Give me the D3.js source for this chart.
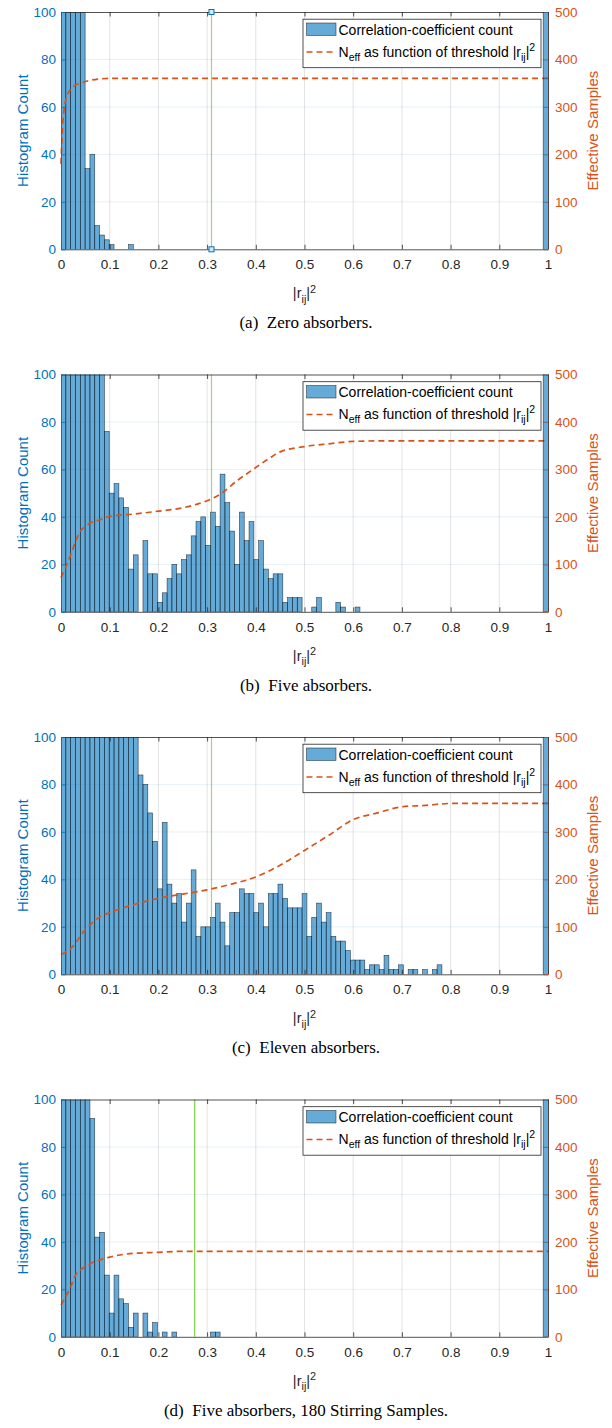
<!DOCTYPE html>
<html>
<head>
<meta charset="utf-8">
<script src="https://cdn.jsdelivr.net/npm/d3@7"></script>
<style>
  body { margin: 0; background: #fff; }
  svg { display: block; }
  text { font-family: "Liberation Sans", Arial, Helvetica, sans-serif; }
  .caption { font-family: "Liberation Serif", "Times New Roman", serif; white-space: pre; }
</style>
</head>
<body>
<script>
// Histogram counts per bin (101 equal bins over [0, 1]); bins past the end of a list are empty.
// Bars taller than the 100 limit are clipped by the axes.
const countsZero = [420, 360, 280, 190, 120, 34, 40, 10, 6, 4, 2, 0, 0, 0, 2];
const countsFive = [300, 260, 230, 200, 180, 160, 140, 120, 105, 76,
  50, 54, 48, 44, 18, 24, 0, 30, 16, 16,
  4, 8, 14, 20, 16, 22, 24, 32, 38, 40,
  28, 42, 36, 58, 46, 34, 20, 42, 30, 38,
  22, 30, 18, 14, 16, 16, 4, 6, 6, 6,
  0, 0, 2, 6, 0, 0, 0, 4, 2, 0,
  0, 2];
const countsEleven = [260, 240, 220, 210, 200, 190, 180, 170, 160, 150,
  140, 130, 125, 118, 110, 104, 84, 80, 68, 56,
  36, 64, 38, 30, 34, 22, 30, 44, 16, 20,
  20, 24, 30, 22, 12, 26, 26, 36, 34, 34,
  26, 30, 20, 34, 34, 38, 32, 28, 28, 28,
  34, 16, 24, 30, 22, 26, 16, 14, 14, 10,
  6, 6, 6, 2, 4, 4, 2, 8, 2, 2,
  4, 0, 2, 2, 0, 2, 0, 2, 4];
const countsStir = [240, 200, 170, 150, 130, 110, 92, 42, 44, 26,
  10, 26, 16, 14, 4, 10, 0, 10, 2, 6,
  0, 2, 0, 2, 0, 0, 0, 0, 0, 0,
  0, 2, 2];
// Count in the last bin (|r|^2 = 1, the diagonal terms)
const diagonalCounts = [360, 360, 360, 180];

// Effective number of samples against the threshold |r_ij|^2
const neffZeroX = [0, 0.003, 0.007, 0.012, 0.02, 0.03, 0.04, 0.06, 0.08, 0.1, 1.0];
const neffZeroY = [180, 255, 300, 322, 338, 346, 350, 356, 359, 360, 360];
const neffFiveX = [0, 0.01, 0.02, 0.03, 0.04, 0.05, 0.06, 0.08, 0.1, 0.15, 0.2, 0.25, 0.28, 0.3, 0.33, 0.36, 0.4, 0.43, 0.45, 0.5, 0.55, 0.6, 0.65, 1.0];
const neffFiveY = [72, 95, 120, 148, 170, 180, 187, 194, 201, 206, 212, 219, 227, 234, 250, 275, 304, 325, 337, 348, 354, 359, 360, 360];
const neffElevenX = [0, 0.02, 0.05, 0.08, 0.1, 0.15, 0.2, 0.25, 0.3, 0.35, 0.4, 0.45, 0.5, 0.55, 0.6, 0.65, 0.7, 0.75, 0.8, 1.0];
const neffElevenY = [42, 54, 94, 121, 130, 147, 160, 169, 178, 190, 205, 230, 261, 293, 326, 340, 353, 356, 360, 360];
const neffStirX = [0, 0.01, 0.02, 0.03, 0.04, 0.05, 0.06, 0.08, 0.1, 0.15, 0.2, 0.25, 1.0];
const neffStirY = [67, 85, 106, 130, 141, 148, 154, 162, 168, 176, 178, 180, 180];

// Chosen threshold marked by the vertical line in each panel
const thresholdLines = [0.309, 0.309, 0.309, 0.2745];

const captions = [
  "(a)  Zero absorbers.",
  "(b)  Five absorbers.",
  "(c)  Eleven absorbers.",
  "(d)  Five absorbers, 180 Stirring Samples."
];
const xTicks = [0, 0.1, 0.2, 0.3, 0.4, 0.5, 0.6, 0.7, 0.8, 0.9, 1];
const xTickLabels = ["0", "0.1", "0.2", "0.3", "0.4", "0.5", "0.6", "0.7", "0.8", "0.9", "1"];
const countTicks = [0, 20, 40, 60, 80, 100];
const sampleTicks = [0, 100, 200, 300, 400, 500];

// ---- drawing ----
const W = 612, H = 1428;
const plotLeft = 61, plotRight = 548, plotHeight = 237.3;
const panelTops = [12, 374.5, 737, 1099.5];
const nBins = 101;
const BLUE = "#0072BD", ORANGE = "#D95319", AXIS = "#262626";
const TICK_FONT = 13.5, LEGEND_FONT = 14;

const panels = [
  { counts: countsZero, diag: diagonalCounts[0], nx: neffZeroX, ny: neffZeroY, thr: thresholdLines[0], cap: captions[0], tips: true, thrColor: "#77AC30", thrOpacity: 0.6 },
  { counts: countsFive, diag: diagonalCounts[1], nx: neffFiveX, ny: neffFiveY, thr: thresholdLines[1], cap: captions[1], tips: false, thrColor: "#77AC30", thrOpacity: 0.6 },
  { counts: countsEleven, diag: diagonalCounts[2], nx: neffElevenX, ny: neffElevenY, thr: thresholdLines[2], cap: captions[2], tips: false, thrColor: "#77AC30", thrOpacity: 0.6 },
  { counts: countsStir, diag: diagonalCounts[3], nx: neffStirX, ny: neffStirY, thr: thresholdLines[3], cap: captions[3], tips: false, thrColor: "#80D24A", thrOpacity: 1 }
];

const svg = d3.select("body").append("svg").attr("width", W).attr("height", H);
const x = d3.scaleLinear().domain([0, 1]).range([plotLeft, plotRight]);

function rIjSquared(sel, size) {
  // writes |r_ij|^2 as tspans
  sel.append("tspan").text("|r");
  sel.append("tspan").attr("dy", size * 0.3).attr("font-size", size * 0.75).text("ij");
  sel.append("tspan").attr("dy", -size * 0.3).text("|");
  sel.append("tspan").attr("dy", -size * 0.4).attr("font-size", size * 0.75).text("2");
}

function styleBar(sel) {
  sel.attr("fill", BLUE).attr("fill-opacity", 0.6)
    .attr("stroke", "#0b1a26").attr("stroke-opacity", 0.8).attr("stroke-width", 0.6);
}

panels.forEach((p, i) => {
  const T = panelTops[i];
  const B = T + plotHeight;
  const yL = d3.scaleLinear().domain([0, 100]).range([B, T]);
  const yR = d3.scaleLinear().domain([0, 500]).range([B, T]);
  const g = svg.append("g");

  const clipId = "plotclip" + i;
  svg.append("clipPath").attr("id", clipId)
    .append("rect").attr("x", plotLeft).attr("y", T)
    .attr("width", plotRight - plotLeft + 1).attr("height", plotHeight);

  // grid
  g.append("g").selectAll("line").data(xTicks.slice(1, -1)).join("line")
    .attr("x1", d => x(d)).attr("x2", d => x(d)).attr("y1", T).attr("y2", B)
    .attr("stroke", AXIS).attr("stroke-opacity", 0.13).attr("stroke-width", 1);
  g.append("g").selectAll("line").data(countTicks.slice(1, -1)).join("line")
    .attr("x1", plotLeft).attr("x2", plotRight).attr("y1", d => yL(d)).attr("y2", d => yL(d))
    .attr("stroke", BLUE).attr("stroke-opacity", 0.1).attr("stroke-width", 1);

  // histogram bars (the diagonal bin is drawn after the axes)
  const bins = p.counts.map((c, k) => ({ k, c })).filter(d => d.c > 0);
  g.append("g").attr("clip-path", `url(#${clipId})`)
    .selectAll("rect").data(bins).join("rect")
    .attr("x", d => x(d.k / nBins))
    .attr("width", d => x((d.k + 1) / nBins) - x(d.k / nBins))
    .attr("y", d => yL(d.c))
    .attr("height", d => yL(0) - yL(d.c))
    .call(styleBar);

  // threshold line
  g.append("line")
    .attr("x1", x(p.thr)).attr("x2", x(p.thr)).attr("y1", yL(0)).attr("y2", yL(100))
    .attr("stroke", p.thrColor).attr("stroke-opacity", p.thrOpacity).attr("stroke-width", 1.2);

  // effective samples curve
  const pts = p.nx.map((v, k) => [v, p.ny[k]]);
  g.append("path").datum(pts)
    .attr("d", d3.line().x(d => x(d[0])).y(d => yR(d[1])).curve(d3.curveMonotoneX))
    .attr("fill", "none").attr("stroke", ORANGE).attr("stroke-width", 1.7)
    .attr("stroke-dasharray", "6,4");

  // axes
  const bottom = g.append("g").attr("transform", `translate(0,${B})`)
    .call(d3.axisBottom(x).tickValues(xTicks).tickFormat((d, k) => xTickLabels[k])
      .tickSizeInner(-4.5).tickSizeOuter(0).tickPadding(10.5));
  const top = g.append("g").attr("transform", `translate(0,${T})`)
    .call(d3.axisTop(x).tickValues(xTicks).tickFormat("").tickSizeInner(-4.5).tickSizeOuter(0));
  [bottom, top].forEach(a => {
    a.select(".domain").attr("stroke", AXIS).attr("stroke-width", 0.8);
    a.selectAll(".tick line").attr("stroke", AXIS).attr("stroke-width", 0.8);
    a.selectAll(".tick text").attr("fill", AXIS).attr("font-size", TICK_FONT)
      .attr("font-family", "'Liberation Sans', Arial, sans-serif");
  });

  const left = g.append("g").attr("transform", `translate(${plotLeft},0)`)
    .call(d3.axisLeft(yL).tickValues(countTicks).tickFormat(d3.format("d"))
      .tickSizeInner(-4.5).tickSizeOuter(0).tickPadding(5));
  left.select(".domain").attr("stroke", BLUE).attr("stroke-width", 0.9);
  left.selectAll(".tick line").attr("stroke", BLUE).attr("stroke-width", 0.8);
  left.selectAll(".tick text").attr("fill", BLUE).attr("font-size", TICK_FONT)
    .attr("font-family", "'Liberation Sans', Arial, sans-serif");

  const right = g.append("g").attr("transform", `translate(${plotRight},0)`)
    .call(d3.axisRight(yR).tickValues(sampleTicks).tickFormat(d3.format("d"))
      .tickSizeInner(-4.5).tickSizeOuter(0).tickPadding(7));
  right.select(".domain").attr("stroke", ORANGE).attr("stroke-width", 0.9);
  right.selectAll(".tick line").attr("stroke", ORANGE).attr("stroke-width", 0.8);
  right.selectAll(".tick text").attr("fill", ORANGE).attr("font-size", TICK_FONT)
    .attr("font-family", "'Liberation Sans', Arial, sans-serif");

  // diagonal bin at x = 1, over the right spine
  g.append("rect").attr("clip-path", `url(#${clipId})`)
    .attr("x", x((nBins - 1) / nBins)).attr("width", x(1) - x((nBins - 1) / nBins) + 0.5)
    .attr("y", yL(p.diag)).attr("height", yL(0) - yL(p.diag))
    .call(styleBar);

  // data tips on the threshold line
  if (p.tips) {
    g.append("g").selectAll("rect").data([0, 100]).join("rect")
      .attr("x", x(p.thr) - 2.5).attr("y", d => yL(d) - 2.5)
      .attr("width", 5).attr("height", 5)
      .attr("fill", "#d7e8f5").attr("stroke", BLUE).attr("stroke-width", 1);
  }

  // axis titles
  g.append("text")
    .attr("transform", `translate(22,${(T + B) / 2}) rotate(-90)`)
    .attr("text-anchor", "middle").attr("dominant-baseline", "central")
    .attr("font-size", 15).attr("fill", BLUE).text("Histogram Count");
  g.append("text")
    .attr("transform", `translate(592,${(T + B) / 2}) rotate(-90)`)
    .attr("text-anchor", "middle").attr("dominant-baseline", "central")
    .attr("font-size", 15).attr("fill", ORANGE).text("Effective Samples");
  const xl = g.append("text").attr("x", (plotLeft + plotRight) / 2).attr("y", B + 49)
    .attr("text-anchor", "middle").attr("font-size", 14.5).attr("fill", AXIS);
  rIjSquared(xl, 14.5);

  // legend
  const lg = g.append("g");
  lg.append("rect").attr("x", 303).attr("y", T + 7.2).attr("width", 238).attr("height", 48.5)
    .attr("fill", "#fff").attr("stroke", AXIS).attr("stroke-width", 0.8);
  lg.append("rect").attr("x", 306.5).attr("y", T + 11).attr("width", 29.5).attr("height", 12.5)
    .call(styleBar);
  lg.append("text").attr("x", 338.5).attr("y", T + 22.5).attr("font-size", LEGEND_FONT)
    .attr("fill", "#000").text("Correlation-coefficient count");
  lg.append("line").attr("x1", 306.5).attr("x2", 336).attr("y1", T + 40).attr("y2", T + 40)
    .attr("stroke", ORANGE).attr("stroke-width", 1.7).attr("stroke-dasharray", "6,4");
  const lt = lg.append("text").attr("x", 338.5).attr("y", T + 44.5).attr("font-size", LEGEND_FONT).attr("fill", "#000");
  lt.append("tspan").text("N");
  lt.append("tspan").attr("dy", 4).attr("font-size", 10.5).text("eff");
  lt.append("tspan").attr("dy", -4).text(" as function of threshold ");
  rIjSquared(lt, LEGEND_FONT);

  // caption
  g.append("text").attr("class", "caption")
    .attr("x", W / 2).attr("y", B + 79).attr("text-anchor", "middle")
    .attr("font-size", 17).attr("fill", "#000").text(p.cap);
});
</script>
</body>
</html>
